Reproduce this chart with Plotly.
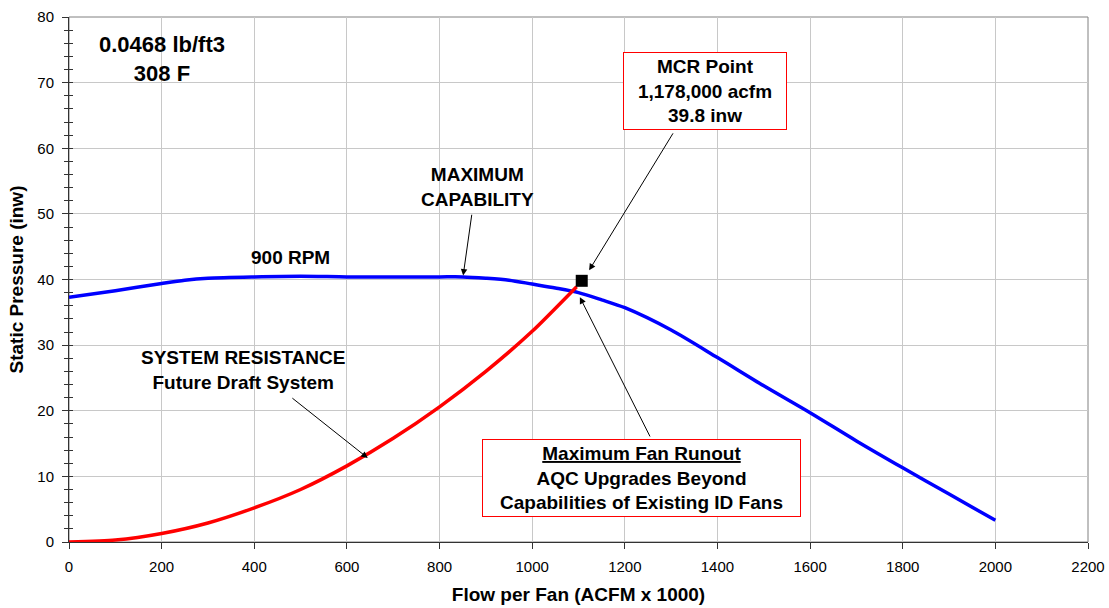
import plotly.graph_objects as go

# Fan curve (900 RPM, maximum capability)
fan_flow = [0, 100, 200, 250, 300, 400, 500, 600, 700, 800, 850, 900, 950, 1000, 1050, 1100, 1150, 1200, 1300, 1400, 1500, 1600, 1700, 1800, 1900, 2000]
fan_sp = [37.3, 38.3, 39.4, 39.9, 40.2, 40.4, 40.5, 40.4, 40.4, 40.4, 40.4, 40.2, 39.9, 39.3, 38.7, 38.0, 36.9, 35.7, 32.3, 28.1, 23.8, 19.7, 15.4, 11.3, 7.3, 3.3]

# System resistance curve
sys_flow = [0, 100, 200, 300, 400, 500, 600, 700, 800, 900, 1000, 1096]
sys_sp = [0, 0.3, 1.3, 2.9, 5.2, 8.0, 11.6, 15.8, 20.6, 26.0, 32.1, 38.9]

# MCR point
mcr_flow = [1107]
mcr_sp = [39.8]

x_ticks = list(range(0, 2201, 200))
y_ticks = list(range(0, 81, 10))

FONT = "Liberation Sans, Arial, sans-serif"

fig = go.Figure()
fig.add_trace(go.Scatter(x=fan_flow, y=fan_sp, mode="lines", line=dict(color="#0000ff", width=3.5, shape="spline", smoothing=0.8), showlegend=False))
fig.add_trace(go.Scatter(x=sys_flow, y=sys_sp, mode="lines", line=dict(color="#ff0000", width=3.5, shape="spline", smoothing=0.6), showlegend=False))
fig.add_trace(go.Scatter(x=mcr_flow, y=mcr_sp, mode="markers", marker=dict(symbol="square", size=12, color="black"), showlegend=False))

ann = []
def txt(x, y, t, size=19, **kw):
    d = dict(x=x, y=y, xref="x", yref="y", text=t, showarrow=False,
             font=dict(family=FONT, size=size, color="black"), align="center")
    d.update(kw)
    ann.append(d)

def arrow(x, y, ax, ay):
    ann.append(dict(x=x, y=y, ax=ax, ay=ay, xref="x", yref="y", axref="x", ayref="y",
                    text="", showarrow=True, arrowhead=2, arrowsize=1.3, arrowwidth=1, arrowcolor="black"))

txt(200, 73.6, "<b>0.0468 lb/ft3<br>308 F</b>", size=22)
txt(479, 43.4, "<b>900 RPM</b>")
txt(881, 54.1, "<b>MAXIMUM<br>CAPABILITY</b>")
arrow(851, 40.6, 870, 50.1)
txt(1373, 68.7, "<b>MCR Point<br>1,178,000 acfm<br>39.8 inw</b>",
    bordercolor="#ff0000", borderwidth=1, borderpad=3, bgcolor="white", width=156)
arrow(1123, 41.4, 1306, 62.5)
txt(376, 26.2, "<b>SYSTEM RESISTANCE<br>Future Draft System</b>")
arrow(645, 12.8, 479, 22.1)
txt(1235, 9.75, "<b><u>Maximum Fan Runout</u><br>AQC Upgrades Beyond<br>Capabilities of Existing ID Fans</b>",
    bordercolor="#ff0000", borderwidth=1, borderpad=3, bgcolor="white", width=311)
arrow(1103, 37.3, 1256, 15.85)

fig.update_layout(
    width=1109, height=608,
    margin=dict(l=69, r=21, t=17, b=66),
    paper_bgcolor="white", plot_bgcolor="white",
    font=dict(family=FONT, size=15, color="black"),
    annotations=ann,
    shapes=[dict(type="rect", xref="paper", yref="paper", x0=0, y0=0, x1=1, y1=1,
                 line=dict(color="#808080", width=1), layer="below")],
    xaxis=dict(range=[0, 2200], tickvals=x_ticks, showgrid=True, gridcolor="#c8c8c8", gridwidth=1,
               zeroline=False, showline=True, linecolor="#333333", linewidth=1, automargin=False,
               ticks="outside", ticklen=6, tickcolor="#333333", ticklabelstandoff=5,
               title=dict(text="<b>Flow per Fan (ACFM x 1000)</b>", font=dict(size=19), standoff=13)),
    yaxis=dict(range=[0, 80], tickvals=y_ticks, showgrid=True, gridcolor="#c8c8c8", gridwidth=1,
               zeroline=False, showline=True, linecolor="#333333", linewidth=1, automargin=False,
               ticks="outside", ticklen=6, tickcolor="#333333", ticklabelstandoff=5,
               minor=dict(dtick=2, ticks="outside", ticklen=4, tickcolor="#333333"),
               title=dict(text="<b>Static Pressure (inw)</b>", font=dict(size=19), standoff=8)),
    yaxis2=dict(range=[0, 80], overlaying="y", side="left", showgrid=False, showticklabels=False,
                zeroline=False, showline=False, ticks="inside", ticklen=4, tickcolor="#333333", automargin=False,
                tickvals=y_ticks, minor=dict(dtick=2, ticks="inside", ticklen=4, tickcolor="#333333")),
)
fig.add_trace(go.Scatter(x=[0], y=[0], yaxis="y2", mode="markers", marker=dict(opacity=0), showlegend=False, hoverinfo="skip"))

fig.write_html("out.html", config={"displayModeBar": False},
               post_script="document.body.style.margin='0';document.body.style.overflow='hidden';")
